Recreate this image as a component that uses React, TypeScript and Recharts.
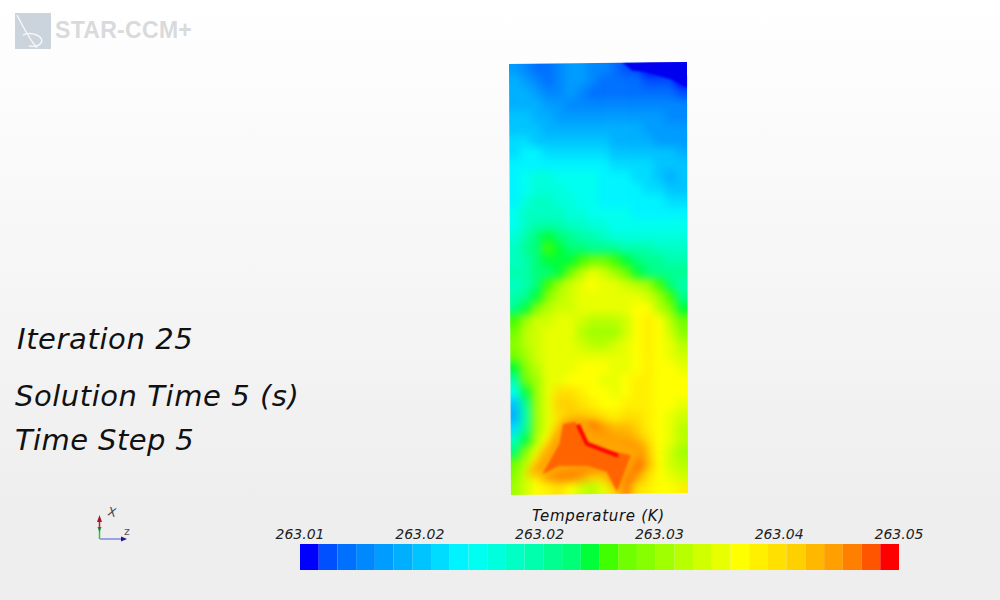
import { Bar, BarChart, Scatter, ScatterChart, XAxis, YAxis } from "recharts"

// colour legend, one colour per temperature band
const bandColors = [
  "#0000ff", "#0050ff", "#0070ff", "#0088ff", "#009cff", "#00b0ff", "#00c4ff", "#00dcff",
  "#00f4ff", "#00fff0", "#00ffdc", "#00ffc4", "#00ffac", "#00ff90", "#00ff78", "#00ff38",
  "#40ff00", "#70ff00", "#88ff00", "#a0ff00", "#b8ff00", "#d0ff00", "#e8ff00", "#ffff00",
  "#fff000", "#ffe000", "#ffd000", "#ffb800", "#ffa000", "#ff8000", "#ff5500", "#ff0000",
]
const legendTicks = [0, 6.4, 12.8, 19.2, 25.6, 32]
const legendLabels = ["263.01", "263.02", "263.02", "263.03", "263.04", "263.05"]

// temperature band of each mesh cell, top row first
const tempBands = [
  [4, 3, 2, 2, 3, 4, 4, 3, 3, 2, 1, 1, 0, 0, 0, 0],
  [5, 4, 3, 2, 3, 4, 4, 3, 2, 2, 2, 2, 1, 1, 1, 0],
  [5, 5, 4, 3, 3, 4, 3, 2, 2, 2, 2, 2, 2, 2, 2, 1],
  [5, 5, 5, 4, 4, 3, 3, 3, 3, 3, 3, 3, 3, 3, 3, 3],
  [6, 6, 5, 5, 4, 4, 4, 4, 4, 4, 4, 4, 4, 4, 3, 3],
  [6, 6, 6, 5, 5, 5, 5, 5, 5, 5, 5, 5, 4, 4, 4, 4],
  [7, 7, 6, 6, 6, 6, 6, 6, 6, 5, 5, 5, 5, 4, 4, 4],
  [7, 8, 8, 7, 7, 7, 7, 7, 7, 6, 6, 6, 6, 6, 6, 5],
  [8, 8, 8, 8, 8, 8, 8, 8, 8, 7, 7, 7, 7, 6, 6, 6],
  [8, 9, 10, 10, 9, 9, 9, 9, 8, 8, 8, 7, 7, 6, 5, 6],
  [8, 9, 10, 10, 10, 9, 9, 9, 8, 8, 8, 8, 7, 7, 6, 6],
  [8, 10, 11, 11, 10, 10, 9, 9, 8, 8, 8, 8, 8, 8, 7, 7],
  [9, 11, 11, 11, 11, 10, 10, 9, 9, 9, 9, 8, 8, 8, 8, 8],
  [9, 11, 12, 12, 12, 11, 11, 10, 10, 9, 9, 9, 9, 9, 9, 9],
  [10, 12, 14, 15, 14, 13, 12, 12, 11, 10, 10, 10, 10, 10, 10, 10],
  [11, 13, 14, 16, 15, 14, 14, 13, 13, 13, 12, 12, 12, 11, 11, 11],
  [11, 12, 14, 15, 15, 15, 16, 17, 17, 16, 15, 14, 13, 13, 12, 12],
  [12, 12, 14, 14, 15, 17, 20, 22, 21, 19, 17, 15, 14, 13, 13, 13],
  [11, 12, 14, 16, 19, 21, 22, 23, 22, 22, 21, 20, 19, 16, 14, 12],
  [12, 13, 15, 18, 20, 21, 22, 22, 22, 22, 22, 22, 21, 19, 16, 13],
  [13, 15, 18, 20, 21, 21, 22, 22, 22, 22, 22, 23, 23, 20, 18, 15],
  [16, 19, 21, 21, 22, 22, 21, 20, 20, 20, 21, 23, 24, 23, 20, 17],
  [17, 20, 21, 22, 22, 22, 20, 19, 19, 19, 21, 23, 24, 23, 21, 18],
  [18, 20, 21, 22, 22, 22, 21, 20, 20, 21, 22, 23, 24, 23, 22, 20],
  [17, 19, 21, 22, 22, 22, 22, 22, 22, 22, 22, 23, 24, 23, 22, 21],
  [15, 18, 20, 22, 22, 22, 23, 23, 23, 22, 22, 23, 24, 23, 23, 22],
  [12, 17, 19, 22, 22, 23, 23, 23, 22, 22, 23, 24, 24, 23, 23, 23],
  [9, 15, 19, 22, 25, 25, 24, 23, 23, 22, 23, 24, 24, 23, 23, 23],
  [6, 13, 19, 22, 26, 26, 25, 24, 23, 23, 24, 24, 24, 23, 23, 22],
  [5, 12, 19, 22, 25, 26, 26, 26, 25, 24, 25, 25, 24, 23, 22, 21],
  [7, 13, 19, 22, 25, 28, 29, 30, 28, 27, 27, 26, 24, 23, 22, 20],
  [11, 15, 20, 23, 26, 29, 30, 30, 29, 28, 28, 27, 25, 23, 22, 20],
  [14, 18, 22, 24, 27, 29, 30, 30, 30, 30, 30, 29, 26, 23, 21, 19],
  [17, 20, 23, 26, 29, 30, 30, 30, 29, 29, 30, 30, 27, 23, 21, 20],
  [18, 21, 24, 28, 29, 29, 28, 26, 26, 28, 30, 28, 25, 23, 22, 21],
  [19, 21, 23, 24, 25, 23, 21, 20, 22, 25, 29, 25, 24, 23, 23, 24],
]

// sharp contour pieces, in mesh cell units
const coldCorner = [
  { x: 10.25, y: 0 }, { x: 16, y: 0 }, { x: 16, y: 2.0 }, { x: 14.5, y: 1.3 },
  { x: 12.4, y: 0.72 }, { x: 11, y: 0.58 },
]
const warmRegion = [
  { x: 1.59, y: 34.47 }, { x: 3.69, y: 31.56 }, { x: 4.88, y: 29.89 }, { x: 6.38, y: 29.61 },
  { x: 8.18, y: 30.72 }, { x: 12.37, y: 32.11 }, { x: 10.58, y: 34.89 }, { x: 9.68, y: 35.86 },
  { x: 8.78, y: 34.33 }, { x: 7.13, y: 34.05 }, { x: 4.58, y: 34.33 },
]
const hotRegion = [
  { x: 3.08, y: 34.3 }, { x: 4.58, y: 31.8 }, { x: 4.9, y: 30.2 }, { x: 5.93, y: 30 },
  { x: 7.13, y: 32 }, { x: 10.9, y: 32.8 }, { x: 9.7, y: 35.7 }, { x: 8.8, y: 34.1 },
  { x: 7, y: 33.6 }, { x: 4.6, y: 33.6 },
]
const hotStreak = [{ x: 6.2, y: 30.2 }, { x: 7, y: 31.8 }, { x: 9.8, y: 32.8 }]

const cells = tempBands.flatMap((row, r) =>
  row.map((band, c) => ({ x: c + 0.5, y: r + 0.5, band }))
)
const legendRow = [Object.fromEntries(bandColors.map((_, i) => [`b${i}`, 1]))]

const font = '"DejaVu Sans", sans-serif'
const CELL_W = 178 / 16
const CELL_H = 431 / 36
const PAD = 20

function Cell(props: any) {
  const { cx, cy, payload } = props
  // edge cells run out past the plate so the blur does not fade at the border
  const left = payload.x < 1 ? PAD : 0
  const right = payload.x > 15 ? PAD : 0
  const top = payload.y < 1 ? PAD : 0
  const bottom = payload.y > 35 ? PAD : 0
  return (
    <rect
      x={cx - CELL_W / 2 - left}
      y={cy - CELL_H / 2 - top}
      width={CELL_W + left + right + 0.6}
      height={CELL_H + top + bottom + 0.6}
      fill={bandColors[payload.band]}
    />
  )
}

const noDot = () => null

function Axes() {
  return (
    <>
      <XAxis type="number" dataKey="x" domain={[0, 16]} hide />
      <YAxis type="number" dataKey="y" domain={[0, 36]} reversed hide />
    </>
  )
}

function Label(p: { x: number; y: number; size: number; spacing: number; children: string }) {
  return (
    <div
      style={{
        position: "absolute",
        left: p.x,
        top: p.y,
        fontFamily: font,
        fontStyle: "italic",
        fontSize: p.size,
        letterSpacing: p.spacing,
        lineHeight: 1,
        color: "#111",
        whiteSpace: "nowrap",
      }}
    >
      {p.children}
    </div>
  )
}

export default function App() {
  const chartSize = { width: 178 + PAD * 2, height: 431 + PAD * 2 }
  const margin = { top: PAD, right: PAD, bottom: PAD, left: PAD }
  return (
    <div
      style={{
        position: "absolute",
        left: 0,
        top: 0,
        width: 1000,
        height: 600,
        overflow: "hidden",
        background: "linear-gradient(#ffffff, #f4f4f4 55%, #eeeeee 85%)",
      }}
    >
      {/* logo */}
      <svg style={{ position: "absolute", left: 15, top: 13 }} width={36} height={36}>
        <rect width={36} height={36} fill="#cbd3dc" />
        <path d="M2 2 C8 14 16 28 22 35 M8 22 C18 18 30 24 26 30 C24 33 20 34 14 33" fill="none" stroke="#f4f6f8" strokeWidth={1.5} />
      </svg>
      <div
        style={{
          position: "absolute",
          left: 55,
          top: 17,
          fontFamily: '"Liberation Sans", sans-serif',
          fontWeight: 700,
          fontSize: 23,
          letterSpacing: 0.3,
          color: "#d8dadc",
          whiteSpace: "nowrap",
        }}
      >
        STAR-CCM+
      </div>

      <Label x={17} y={325} size={29} spacing={0.6}>Iteration 25</Label>
      <Label x={15} y={382} size={29} spacing={0.55}>Solution Time 5 (s)</Label>
      <Label x={15} y={426} size={29} spacing={0.4}>Time Step 5</Label>

      {/* triad */}
      <svg style={{ position: "absolute", left: 90, top: 505 }} width={45} height={40}>
        <path d="M10 34 H33" stroke="#6a6ae0" strokeWidth={1.2} />
        <path d="M37 34 L31 31.5 V36.5 Z" fill="#1a1a90" />
        <path d="M9.5 34 V22" stroke="#30c040" strokeWidth={1.5} />
        <path d="M9.5 22 V14" stroke="#c02030" strokeWidth={1.5} />
        <path d="M9.5 10 L7 17 H12 Z" fill="#a01828" />
        <path d="M9.5 27 L7.5 22 H11.5 Z" fill="#208030" />
        <text x={17} y={10} fontFamily={font} fontSize={12} fill="#444" transform="rotate(15 17 10)">X</text>
        <text x={34} y={30} fontFamily={font} fontSize={11} fill="#555">z</text>
      </svg>

      {/* temperature field */}
      <div
        style={{
          position: "absolute",
          left: 509 - PAD,
          top: 63 - PAD,
          ...chartSize,
          clipPath: "polygon(20px 21px, 198px 19px, 199px 450px, 22px 452px)",
        }}
      >
        <div style={{ position: "absolute", left: 0, top: 0, filter: "blur(4px)" }}>
          <ScatterChart {...chartSize} margin={margin}>
            {Axes()}
            <Scatter data={cells} isAnimationActive={false} shape={<Cell />} />
          </ScatterChart>
        </div>
        <div style={{ position: "absolute", left: 0, top: 0, filter: "blur(5px)" }}>
          <ScatterChart {...chartSize} margin={margin}>
            {Axes()}
            <Scatter data={warmRegion} isAnimationActive={false} shape={noDot} line={{ fill: "#ffa400", stroke: "#ffa400" }} />
          </ScatterChart>
        </div>
        <div style={{ position: "absolute", left: 0, top: 0, filter: "blur(1px)" }}>
          <ScatterChart {...chartSize} margin={margin}>
            {Axes()}
            <Scatter data={coldCorner} isAnimationActive={false} shape={noDot} line={{ fill: "#0000ee", stroke: "#0000ee" }} />
            <Scatter data={hotRegion} isAnimationActive={false} shape={noDot} line={{ fill: "#ff6400", stroke: "#ff6400" }} />
            <Scatter data={hotStreak} isAnimationActive={false} shape={noDot} line={{ stroke: "#ff0000", strokeWidth: 4 }} />
          </ScatterChart>
        </div>
      </div>

      {/* colour legend */}
      <div style={{ position: "absolute", left: 240, top: 500 }}>
        <BarChart
          width={720}
          height={80}
          layout="vertical"
          data={legendRow}
          barCategoryGap={0}
          margin={{ top: 24, right: 61, bottom: 10, left: 60 }}
        >
          <XAxis
            type="number"
            orientation="top"
            domain={[0, 32]}
            ticks={legendTicks}
            tickFormatter={(_: number, i: number) => legendLabels[i]}
            interval={0}
            axisLine={false}
            tickLine={false}
            tickSize={3}
            height={20}
            tick={{ fontFamily: font, fontStyle: "italic", fontSize: 14, fill: "#222" }}
          />
          <YAxis type="category" hide />
          {bandColors.map((color, i) => (
            <Bar key={i} dataKey={`b${i}`} stackId="legend" fill={color} isAnimationActive={false} />
          ))}
        </BarChart>
      </div>
      <Label x={532} y={509} size={15} spacing={0.7}>Temperature (K)</Label>
    </div>
  )
}
